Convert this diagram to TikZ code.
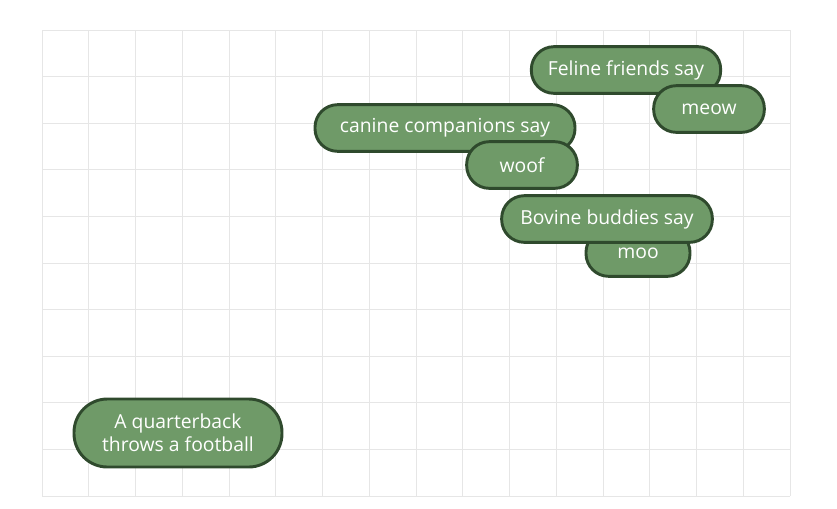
\documentclass[tikz,border=0pt]{standalone}
\usepackage{fontspec}
\setmainfont{Open Sans}
\usepackage{tikz}

\definecolor{pillfill}{HTML}{6F9A68}
\definecolor{pilledge}{HTML}{2F4A2D}
\definecolor{gridgray}{HTML}{E6E6E6}

\tikzset{
  pill/.style={draw=pilledge, fill=pillfill, line width=2.2pt, rounded corners=17pt,
    text=white, font=\fontsize{14.5pt}{17.5pt}\selectfont, minimum height=35pt,
    inner sep=0pt, align=center},
  gridline/.style={draw=gridgray, line width=0.7pt}
}

\begin{document}
\begin{tikzpicture}[x=0.75pt, y=-0.75pt]
	\useasboundingbox (0,0) rectangle (837,508);

	% background grid
	\foreach \i in {0,...,16}
		\draw[gridline] (42+46.75*\i, 30) -- (42+46.75*\i, 496);
	\foreach \j in {0,...,10}
		\draw[gridline] (42, 30+46.6*\j) -- (790, 30+46.6*\j);

	\node[pill, minimum width=142pt] (feline) at (626, 70) {Feline friends say};
	\node[pill, minimum width=83pt] (meow) at (709, 109) {meow};

	\node[pill, minimum width=195pt] (canine) at (445, 128) {canine companions say};
	\node[pill, minimum width=83pt] (woof) at (522, 165) {woof};

	\node[pill, minimum width=78pt] (moo) at (638, 253) {moo};
	\node[pill, minimum width=158pt] (bovine) at (607, 219) {Bovine buddies say};

	\node[pill, minimum width=156pt, minimum height=51pt, rounded corners=25pt] (qback) at (178, 433)
		{A quarterback\\throws a football};
\end{tikzpicture}
\end{document}
